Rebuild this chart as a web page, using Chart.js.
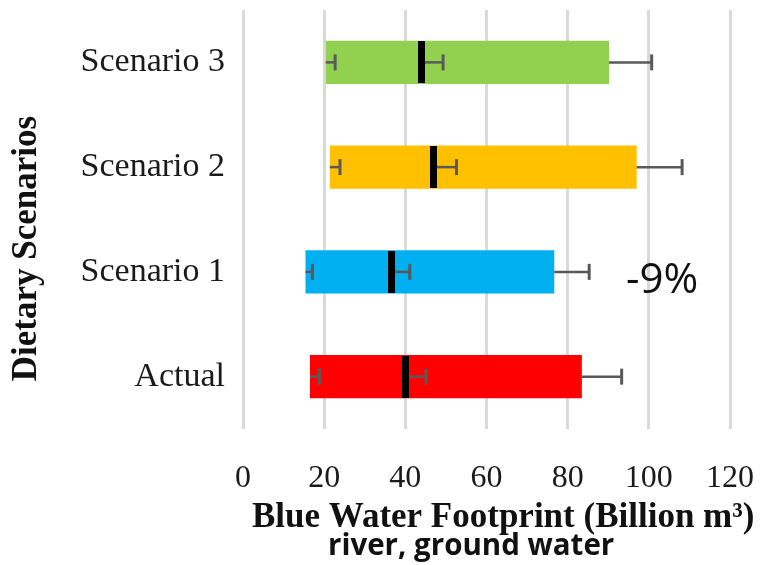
<!DOCTYPE html>
<html>
<head>
<meta charset="utf-8">
<script src="https://cdn.jsdelivr.net/npm/chart.js@4.4.1/dist/chart.umd.min.js"></script>
<style>
  html, body { margin: 0; padding: 0; background: #ffffff; }
  #wrap { width: 766px; height: 565px; }
</style>
</head>
<body>
<div id="wrap"><canvas id="c" width="766" height="565"></canvas></div>
<script>
// Blue water footprint per dietary scenario (billion m3)
const scenarios = ['Scenario 3', 'Scenario 2', 'Scenario 1', 'Actual'];
const lowValues = [20.4, 21.4, 15.4, 16.5];
const highValues = [90.2, 97.0, 76.7, 83.5];
const medianValues = [44.1, 47.0, 36.6, 40.1];
// uncertainty whiskers drawn to the right of each value
const lowErrors = [2.3, 2.5, 1.7, 2.3];
const medianErrors = [5.2, 5.6, 4.5, 5.0];
const highErrors = [10.5, 11.2, 8.6, 9.8];
const barColors = ['#92D050', '#FFC000', '#00B0F0', '#FF0000'];
const xTickValues = [0, 20, 40, 60, 80, 100, 120];
const changeLabel = '-9%';

const SERIF = '"Liberation Serif", "Times New Roman", serif';
const SANS = '"Open Sans", "Noto Sans", sans-serif';

// median marker glyph: a thick black vertical stroke
const markerGlyph = document.createElement('canvas');
markerGlyph.width = 7;
markerGlyph.height = 42;
(() => {
  const g = markerGlyph.getContext('2d');
  g.fillStyle = '#000000';
  g.fillRect(0, 0, markerGlyph.width, markerGlyph.height);
})();

// whiskers: drawn right after the range bars, underneath the median markers
const errorBarPlugin = {
  id: 'errorBars',
  afterDatasetDraw(chart, args) {
    if (args.index !== 0) return;
    const { ctx, scales: { x, y } } = chart;
    ctx.save();
    ctx.strokeStyle = '#595959';
    ctx.lineCap = 'butt';
    scenarios.forEach((name, i) => {
      const yc = y.getPixelForValue(i);
      const pairs = [
        [lowValues[i], lowErrors[i]],
        [medianValues[i], medianErrors[i]],
        [highValues[i], highErrors[i]]
      ];
      pairs.forEach(([v, e]) => {
        const x0 = x.getPixelForValue(v);
        const x1 = x.getPixelForValue(v + e);
        ctx.lineWidth = 2.5;
        ctx.beginPath();
        ctx.moveTo(x0, yc);
        ctx.lineTo(x1, yc);
        ctx.stroke();
        ctx.lineWidth = 3;
        ctx.beginPath();
        ctx.moveTo(x1, yc - 8);
        ctx.lineTo(x1, yc + 8);
        ctx.stroke();
      });
    });
    ctx.restore();
  }
};

// axis titles and the change annotation
const textPlugin = {
  id: 'texts',
  afterDraw(chart) {
    const { ctx } = chart;
    ctx.save();
    ctx.fillStyle = '#111111';

    ctx.font = '42px ' + SANS;
    ctx.textAlign = 'center';
    ctx.textBaseline = 'middle';
    ctx.fillText(changeLabel, 662, 281);

    ctx.font = 'bold 35px ' + SERIF;
    ctx.textAlign = 'left';
    ctx.textBaseline = 'alphabetic';
    ctx.fillText('Blue Water Footprint (Billion m\u00B3)', 252, 527);

    ctx.font = 'bold 29.5px ' + SANS;
    ctx.fillText('river, ground water', 328, 555);

    ctx.translate(36, 248.5);
    ctx.rotate(-Math.PI / 2);
    ctx.textAlign = 'center';
    ctx.font = 'bold 35px ' + SERIF;
    ctx.fillText('Dietary Scenarios', 0, 0);
    ctx.restore();
  }
};

// keep the plot frame fixed regardless of label overhang
const noOverhang = (scale) => {
  scale.paddingTop = 0;
  scale.paddingBottom = 0;
  scale.paddingLeft = 0;
  scale.paddingRight = 0;
};

new Chart(document.getElementById('c'), {
  type: 'bar',
  data: {
    labels: scenarios,
    datasets: [
      {
        label: 'Range',
        data: scenarios.map((s, i) => [lowValues[i], highValues[i]]),
        backgroundColor: barColors,
        borderWidth: 0,
        categoryPercentage: 0.415,
        barPercentage: 1,
        order: 1
      },
      {
        type: 'line',
        label: 'Median',
        data: scenarios.map((s, i) => ({ x: medianValues[i], y: s })),
        showLine: false,
        borderWidth: 0,
        pointStyle: markerGlyph,
        pointRadius: 1,
        pointBorderWidth: 0,
        order: 0
      }
    ]
  },
  options: {
    indexAxis: 'y',
    responsive: false,
    animation: false,
    events: [],
    devicePixelRatio: 1,
    layout: { padding: { top: 10, right: 36, left: 0, bottom: 0 } },
    plugins: {
      legend: { display: false },
      tooltip: { enabled: false },
      title: { display: false }
    },
    scales: {
      x: {
        type: 'linear',
        min: xTickValues[0],
        max: xTickValues[xTickValues.length - 1],
        afterBuildTicks: (scale) => { scale.ticks = xTickValues.map(v => ({ value: v })); },
        afterFit: (scale) => { scale.height = 136; noOverhang(scale); },
        border: { display: false },
        grid: { color: '#d9d9d9', lineWidth: 3, drawTicks: false },
        ticks: {
          color: '#1a1a1a',
          font: { family: SERIF, size: 32 },
          padding: 30,
          maxRotation: 0
        }
      },
      y: {
        type: 'category',
        afterFit: (scale) => { scale.width = 243; noOverhang(scale); },
        border: { display: false },
        grid: { display: false, drawTicks: false },
        ticks: {
          color: '#1a1a1a',
          font: { family: SERIF, size: 34 },
          padding: 18
        }
      }
    }
  },
  plugins: [errorBarPlugin, textPlugin]
});
</script>
</body>
</html>
